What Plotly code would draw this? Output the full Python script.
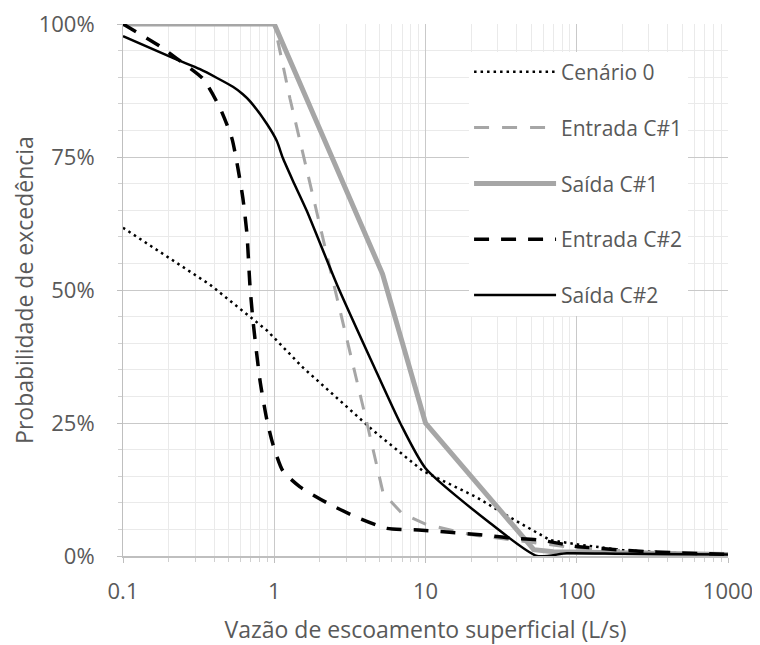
import plotly.graph_objects as go

# ---- data ----
cen0_x = [0.1, 0.376, 0.895, 1.55, 2.72, 4.5, 9.6, 21.9, 36, 66.5, 100, 200, 500, 1000]
cen0_y = [61.7, 51, 42.4, 35.4, 29.2, 23.6, 16, 11, 7.3, 3.0, 2.2, 1.1, 0.5, 0.3]

ent1_x = [0.1, 1, 1.27, 1.55, 2.1, 2.6, 4.1, 5.25, 7, 10, 20, 50, 100, 300, 1000]
ent1_y = [100, 100, 86, 75.5, 59.8, 48.5, 25, 11.8, 8, 6, 4, 2.5, 1.5, 0.7, 0.3]

sai1_x = [0.1, 1, 5.2, 10, 52, 70, 1000]
sai1_y = [100, 100, 53, 25, 1.2, 0.8, 0.3]

ent2_x = [0.1, 0.176, 0.227, 0.338, 0.438, 0.525, 0.575, 0.62, 0.66, 0.69, 0.725, 0.805, 0.895, 0.98,
          1.14, 1.48, 2.23, 3.5, 5.55, 9, 13.8, 23, 36, 57, 100, 300, 1000]
ent2_y = [100, 95.8, 93.5, 89.7, 84.2, 78.5, 72.9, 67.3, 60.5, 51, 44, 33, 25.5, 21,
          16, 13, 10, 7.3, 5.2, 4.9, 4.5, 4, 3.4, 3, 1.8, 0.8, 0.3]

sai2_x = [0.1, 0.227, 0.323, 0.533, 0.62, 0.69, 0.895, 1.04, 1.14, 1.33, 1.64, 2.6, 4.5, 6.8, 10, 26.7,
          54.6, 86, 200, 1000]
sai2_y = [97.7, 93.3, 91.5, 88.2, 86.8, 85.5, 81.2, 78, 74.8, 70.5, 64.9, 51, 36, 25, 16.5, 6.2,
          0, 0.5, 0.4, 0.3]

x_tickvals = [0.1, 1, 10, 100, 1000]
x_ticktext = ["0.1", "1", "10", "100", "1000"]
y_tickvals = [0, 25, 50, 75, 100]
y_ticktext = ["0%", "25%", "50%", "75%", "100%"]

names = ["Cenário 0", "Entrada C#1", "Saída C#1", "Entrada C#2", "Saída C#2"]

FONT = "Open Sans"
TXT = "#595959"
GRAY = "#A6A6A6"

fig = go.Figure()
series = [
    (cen0_x, cen0_y, dict(color="black", width=2.5, dash="2.5px,4px"), "linear"),
    (ent1_x, ent1_y, dict(color=GRAY, width=3, dash="15px,13px"), "linear"),
    (sai1_x, sai1_y, dict(color=GRAY, width=5), "linear"),
    (ent2_x, ent2_y, dict(color="black", width=3.5, dash="15px,12px"), "spline"),
    (sai2_x, sai2_y, dict(color="black", width=2.5), "spline"),
]
for i, (xs, ys, ln, shape) in enumerate(series):
    if shape == "spline":
        ln = dict(ln, shape="spline", smoothing=0.6)
    fig.add_trace(go.Scatter(x=xs, y=ys, mode="lines", name=names[i], line=ln,
                             legendgroup=f"g{i}"))

# page body has an 8px default margin, so the figure is sized to fit 760x645
fig.update_layout(
    width=752, height=637,
    margin=dict(l=115, r=32, t=16, b=89),
    paper_bgcolor="white", plot_bgcolor="white",
    font=dict(family=FONT, size=21, color=TXT),
    legend=dict(
        x=0.572, y=0.948, xanchor="left", yanchor="top",
        bgcolor="white", borderwidth=0,
        traceorder="grouped", tracegroupgap=25.5,
        itemwidth=82,
        font=dict(family=FONT, size=21, color=TXT),
    ),
    xaxis=dict(
        type="log", range=[-1, 3], automargin=False,
        tickmode="array", tickvals=x_tickvals, ticktext=x_ticktext,
        showgrid=True, gridcolor="#C9C9C9", gridwidth=1,
        ticks="outside", ticklen=5, tickcolor="#BFBFBF",
        showline=True, linecolor="#BFBFBF", linewidth=2,
        zeroline=False, ticklabeloverflow="allow",
        minor=dict(dtick="D1", showgrid=True, gridcolor="#EAEAEA", ticks="outside",
                   ticklen=4, tickcolor="#D0D0D0"),
        title=dict(text="Vazão de escoamento superficial (L/s)", standoff=20,
                   font=dict(family=FONT, size=23, color=TXT)),
        tickfont=dict(family=FONT, size=22, color=TXT),
        ticklabelstandoff=10,
    ),
    yaxis=dict(
        range=[0, 100], automargin=False,
        tickmode="array", tickvals=y_tickvals, ticktext=y_ticktext,
        showgrid=True, gridcolor="#C9C9C9", gridwidth=1,
        ticks="outside", ticklen=5, tickcolor="#BFBFBF",
        showline=True, linecolor="#BFBFBF", linewidth=1,
        zeroline=False, ticklabeloverflow="allow",
        minor=dict(dtick=5, showgrid=True, gridcolor="#EAEAEA", ticks="outside",
                   ticklen=4, tickcolor="#D0D0D0"),
        title=dict(text="Probabilidade de excedência", standoff=0,
                   font=dict(family=FONT, size=23, color=TXT)),
        tickfont=dict(family=FONT, size=22, color=TXT),
        ticklabelstandoff=18,
    ),
)

fig.write_html("out.html")
